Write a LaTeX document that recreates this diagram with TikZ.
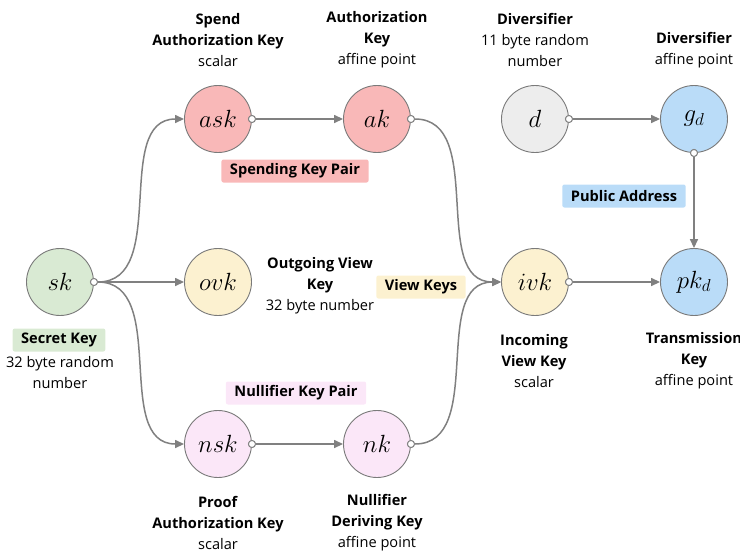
\documentclass[tikz,border=0pt]{standalone}
\usepackage{fontspec}
\setmainfont{Open Sans}
\usetikzlibrary{arrows.meta}
\definecolor{cgreen}{HTML}{D9EAD3}
\definecolor{cpink}{HTML}{F9B8B8}
\definecolor{cyellow}{HTML}{FCF1D0}
\definecolor{cviolet}{HTML}{FBE7F8}
\definecolor{cgrey}{HTML}{EDEDED}
\definecolor{cblue}{HTML}{BADCF8}
\definecolor{cline}{HTML}{808080}
\definecolor{cedge}{HTML}{7A7A7A}
\tikzset{
  keynode/.style={circle, draw=cedge, line width=0.9pt, minimum size=67pt, inner sep=0pt,
    font=\fontsize{26}{26}\selectfont},
  captext/.style={align=center, font=\fontsize{14.6}{21}\selectfont, inner sep=0pt},
  tagbox/.style={rounded corners=2pt, inner xsep=8.5pt, minimum height=23pt, inner ysep=0pt,
    font=\bfseries\fontsize{14.6}{16}\selectfont},
  portdot/.style={circle, draw=cline, fill=white, line width=0.9pt, minimum size=7pt, inner sep=0pt},
  arr/.style={draw=cline, line width=1.5pt, -{Triangle[length=9pt,width=8pt]}},
}
\begin{document}
\begin{tikzpicture}[x=1pt,y=-1pt]
\useasboundingbox (0,0) rectangle (740,550);
% key nodes
\node[keynode, fill=cgreen] (sk) at (60,282) {$sk$};
\node[keynode, fill=cpink] (ask) at (218,119) {$ask$};
\node[keynode, fill=cpink] (ak) at (377,119) {$ak$};
\node[keynode, fill=cgrey] (d) at (535,119) {$d$};
\node[keynode, fill=cblue] (gd) at (694,119) {$g_d$};
\node[keynode, fill=cyellow] (ovk) at (218,282) {$ovk$};
\node[keynode, fill=cyellow] (ivk) at (535,282) {$ivk$};
\node[keynode, fill=cblue] (pkd) at (694,282) {$pk_d$};
\node[keynode, fill=cviolet] (nsk) at (218,444) {$nsk$};
\node[keynode, fill=cviolet] (nk) at (377,444) {$nk$};
% start dots
\node[portdot] (skd) at (sk.east) {};
\node[portdot] (askd) at (ask.east) {};
\node[portdot] (akd) at (ak.east) {};
\node[portdot] (dd) at (d.east) {};
\node[portdot] (gdd) at (gd.south) {};
\node[portdot] (ivkd) at (ivk.east) {};
\node[portdot] (nskd) at (nsk.east) {};
\node[portdot] (nkd) at (nk.east) {};
% connectors
\draw[arr] (skd) to[out=0,in=180] (ask);
\draw[arr] (skd) -- (ovk);
\draw[arr] (skd) to[out=0,in=180] (nsk);
\draw[arr] (askd) -- (ak);
\draw[arr] (akd) to[out=0,in=180] (ivk);
\draw[arr] (nkd) to[out=0,in=180] (ivk);
\draw[arr] (nskd) -- (nk);
\draw[arr] (dd) -- (gd);
\draw[arr] (gdd) -- (pkd);
\draw[arr] (ivkd) -- (pkd);
% redraw dots on top
\foreach \n in {skd,askd,akd,dd,gdd,ivkd,nskd,nkd} \node[portdot] at (\n) {};
% captions
\node[captext] (capask) at (218,40) {\textbf{Spend}\\\textbf{Authorization Key}\\scalar};
\node[captext] (capak) at (377,40) {\textbf{Authorization}\\\textbf{Key}\\affine point};
\node[captext] (capd) at (535,40) {\textbf{Diversifier}\\11 byte random\\number};
\node[captext] (capgd) at (694,50.5) {\textbf{Diversifier}\\affine point};
\node[captext] (capsk) at (60,372.5) {32 byte random\\number};
\node[captext] (capovk) at (320,286) {\textbf{Outgoing View}\\\textbf{Key}\\32 byte number};
\node[captext] (capivk) at (534,361) {\textbf{Incoming}\\\textbf{View Key}\\scalar};
\node[captext] (cappkd) at (694,361) {\textbf{Transmission}\\\textbf{Key}\\affine point};
\node[captext] (capnsk) at (218,523) {\textbf{Proof}\\\textbf{Authorization Key}\\scalar};
\node[captext] (capnk) at (377,523) {\textbf{Nullifier}\\\textbf{Deriving Key}\\affine point};
% tags
\node[tagbox, fill=cgreen] (tsk) at (59,340) {Secret Key};
\node[tagbox, fill=cpink] (tspend) at (295,171) {Spending Key Pair};
\node[tagbox, fill=cblue] (tpub) at (624,196) {Public Address};
\node[tagbox, fill=cyellow] (tview) at (421,287) {View Keys};
\node[tagbox, fill=cviolet] (tnull) at (296,393) {Nullifier Key Pair};
\end{tikzpicture}
\end{document}
